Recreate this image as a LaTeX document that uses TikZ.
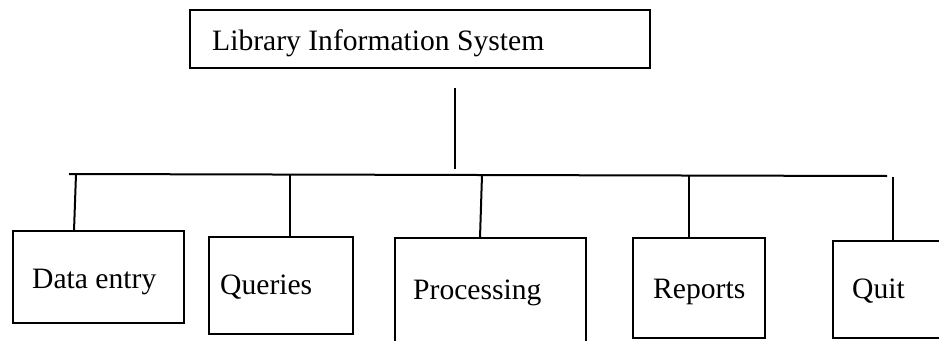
\documentclass[tikz,border=0pt]{standalone}
\usepackage{fontspec}
\setmainfont{Liberation Serif}
\begin{document}
\begin{tikzpicture}[x=1pt,y=-1pt,
  box/.style={draw,line width=2pt,inner sep=0pt,outer sep=0pt,rectangle},
  lbl/.style={anchor=base west,inner sep=0pt,font=\fontsize{29.6}{34}\selectfont},
  conn/.style={line width=2pt}]
\useasboundingbox[fill=white] (0,0) rectangle (939,340);
\clip (0,0) rectangle (939,340);
% top box
\node[box,minimum width=460pt,minimum height=58pt] (top) at (420,39) {};
\node[lbl] (toptxt) at (212,50) {Library Information System};
% stem and bar
\coordinate (s1) at (455,88);
\coordinate (s2) at (455,169);
\draw[conn] (s1) -- (s2);
\coordinate (barL) at (69,174);
\coordinate (barR) at (887,176);
\draw[conn] (barL) -- (barR);
% boxes
\node[box,minimum width=171pt,minimum height=92pt] (de) at (98.5,277) {};
\node[lbl] (detxt) at (32,288) {Data entry};
\node[box,minimum width=144pt,minimum height=97pt] (qu) at (281,285.5) {};
\node[lbl] (qutxt) at (220,294) {Queries};
\node[box,minimum width=191pt,minimum height=122pt] (pr) at (490.5,299) {};
\node[lbl] (prtxt) at (413,299) {Processing};
\node[box,minimum width=132pt,minimum height=100pt] (re) at (699,288) {};
\node[lbl] (retxt) at (653,298) {Reports};
\node[box,minimum width=127pt,minimum height=97pt] (qt) at (896.5,289.5) {};
\node[lbl] (qttxt) at (852,298) {Quit};
% branch connectors
\coordinate (b1) at (76,174);  \coordinate (c1) at (74,231);
\coordinate (b2) at (290,175); \coordinate (c2) at (290,237);
\coordinate (b3) at (482,175); \coordinate (c3) at (480,238);
\coordinate (b4) at (689,176); \coordinate (c4) at (689,238);
\coordinate (b5) at (893,177); \coordinate (c5) at (893,241);
\draw[conn] (b1) -- (c1);
\draw[conn] (b2) -- (c2);
\draw[conn] (b3) -- (c3);
\draw[conn] (b4) -- (c4);
\draw[conn] (b5) -- (c5);
\end{tikzpicture}
\end{document}
